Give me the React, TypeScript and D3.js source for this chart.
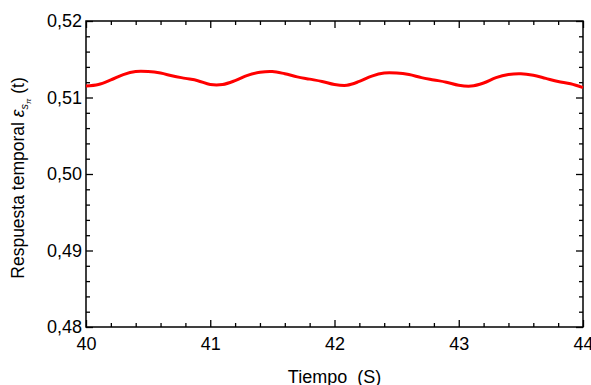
import React, { useEffect, useRef } from 'react';
import * as d3 from 'd3';

// time samples (s) and temporal response
const tiempo = [
  40.0, 40.1, 40.2, 40.3, 40.4, 40.5, 40.6, 40.7, 40.8, 40.9,
  41.0, 41.1, 41.2, 41.3, 41.4, 41.5, 41.6, 41.7, 41.8, 41.9,
  42.0, 42.1, 42.2, 42.3, 42.4, 42.5, 42.6, 42.7, 42.8, 42.9,
  43.0, 43.1, 43.2, 43.3, 43.4, 43.5, 43.6, 43.7, 43.8, 43.9,
  44.0,
];
const respuesta = [
  0.5115, 0.5117, 0.5123, 0.5130, 0.5134, 0.5134, 0.5132, 0.5128, 0.5125, 0.5122,
  0.5117, 0.5117, 0.5122, 0.5129, 0.5133, 0.5134, 0.5131, 0.5127, 0.5124, 0.5121,
  0.5117, 0.5116, 0.5121, 0.5128, 0.5132, 0.5132, 0.5130, 0.5126, 0.5123, 0.5120,
  0.5116, 0.5115, 0.5119, 0.5126, 0.5130, 0.5131, 0.5129, 0.5125, 0.5121, 0.5118,
  0.5113,
];

const xTicks = [40, 41, 42, 43, 44];
const yTicks = [0.48, 0.49, 0.50, 0.51, 0.52];

const App = () => {
  const svgRef = useRef<SVGSVGElement>(null);

  useEffect(() => {
    document.body.style.margin = '0';
    document.body.style.overflow = 'hidden';

    const width = 591;
    const height = 385;
    const margin = { top: 21, right: 8, bottom: 58, left: 86 };
    const innerWidth = width - margin.left - margin.right;
    const innerHeight = height - margin.top - margin.bottom;

    d3.select(svgRef.current).selectAll('*').remove();
    const svg = d3.select(svgRef.current)
      .attr('width', width)
      .attr('height', height)
      .style('display', 'block')
      .style('font-family', '"Liberation Sans", Arial, sans-serif');

    const g = svg.append('g')
      .attr('transform', `translate(${margin.left},${margin.top})`);

    const x = d3.scaleLinear().domain([40, 44]).range([0, innerWidth]);
    const y = d3.scaleLinear().domain([0.48, 0.52]).range([innerHeight, 0]);

    const fmt = (d: number) => d.toFixed(2).replace('.', ',');
    const xMinor = d3.range(40, 44.0001, 0.2).filter(v => Math.abs(v - Math.round(v)) > 1e-6);
    const yMinor = d3.range(0.48, 0.52001, 0.002).filter(v => Math.abs(v * 100 - Math.round(v * 100)) > 1e-6);

    const styleAxis = (sel: any) => {
      sel.select('.domain').remove();
      sel.selectAll('line').attr('stroke', '#000').attr('stroke-width', 1.3);
      sel.selectAll('text').style('font-size', '18px').attr('fill', '#000');
    };

    // bottom axis (ticks inside)
    g.append('g')
      .attr('transform', `translate(0,${innerHeight})`)
      .call(d3.axisBottom(x).tickValues(xTicks).tickSize(-7).tickPadding(6).tickFormat(d3.format('d')))
      .call(styleAxis)
      .selectAll('text').attr('dy', '0.95em');
    g.append('g')
      .attr('transform', `translate(0,${innerHeight})`)
      .call(d3.axisBottom(x).tickValues(xMinor).tickSize(-4).tickFormat(() => ''))
      .call(styleAxis);

    // top ticks
    g.append('g')
      .call(d3.axisTop(x).tickValues(xTicks).tickSize(-7).tickFormat(() => ''))
      .call(styleAxis);
    g.append('g')
      .call(d3.axisTop(x).tickValues(xMinor).tickSize(-4).tickFormat(() => ''))
      .call(styleAxis);

    // left axis
    g.append('g')
      .call(d3.axisLeft(y).tickValues(yTicks).tickSize(-7).tickPadding(4).tickFormat(fmt as any))
      .call(styleAxis);
    g.append('g')
      .call(d3.axisLeft(y).tickValues(yMinor).tickSize(-4).tickFormat(() => ''))
      .call(styleAxis);

    // right ticks
    g.append('g')
      .attr('transform', `translate(${innerWidth},0)`)
      .call(d3.axisRight(y).tickValues(yTicks).tickSize(-7).tickFormat(() => ''))
      .call(styleAxis);
    g.append('g')
      .attr('transform', `translate(${innerWidth},0)`)
      .call(d3.axisRight(y).tickValues(yMinor).tickSize(-4).tickFormat(() => ''))
      .call(styleAxis);

    // frame
    g.append('rect')
      .attr('width', innerWidth)
      .attr('height', innerHeight)
      .attr('fill', 'none')
      .attr('stroke', '#000')
      .attr('stroke-width', 1.5);

    // curve
    const data = tiempo.map((t, i) => ({ t, v: respuesta[i] }));
    const line = d3.line<{ t: number; v: number }>()
      .x(d => x(d.t))
      .y(d => y(d.v))
      .curve(d3.curveCatmullRom.alpha(0.5));
    g.append('path')
      .datum(data)
      .attr('fill', 'none')
      .attr('stroke', '#ff0000')
      .attr('stroke-width', 3)
      .attr('d', line);

    // x label
    svg.append('text')
      .attr('x', margin.left + innerWidth / 2)
      .attr('y', 383)
      .attr('text-anchor', 'middle')
      .attr('xml:space', 'preserve')
      .style('font-size', '18px')
      .text('Tiempo  (S)');

    // y label
    const yl = svg.append('text')
      .attr('transform', `translate(24,${margin.top + innerHeight / 2 + 4}) rotate(-90)`)
      .attr('text-anchor', 'middle')
      .style('font-size', '17.5px');
    yl.append('tspan').text('Respuesta temporal ');
    yl.append('tspan').style('font-style', 'italic').text('ε');
    yl.append('tspan').attr('dy', 4).style('font-size', '11px').style('font-style', 'italic').text('s');
    yl.append('tspan').attr('dy', 3).style('font-size', '8px').style('font-style', 'italic').text('π');
    yl.append('tspan').attr('dy', -7).text(' (t)');
  }, []);

  return (
    <div>
      <svg ref={svgRef}></svg>
    </div>
  );
};

export default App;
